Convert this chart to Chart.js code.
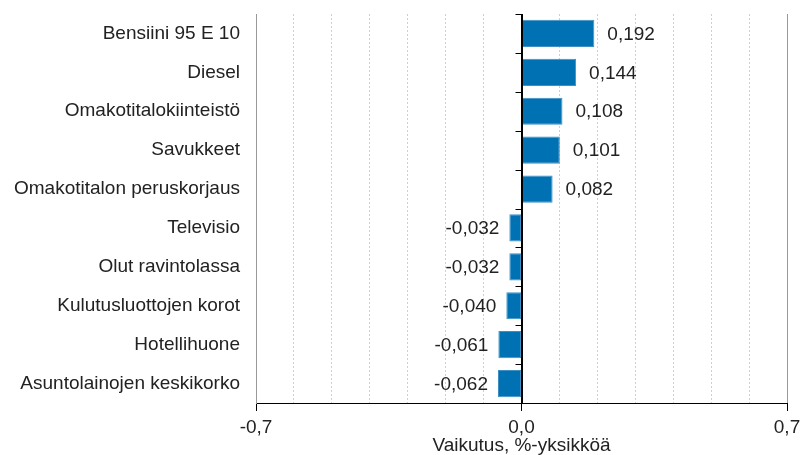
<!DOCTYPE html>
<html>
<head>
<meta charset="utf-8">
<script src="https://cdn.jsdelivr.net/npm/chart.js@4/dist/chart.umd.min.js"></script>
<style>
  html, body { margin: 0; padding: 0; background: #fff; }
  #wrap { width: 803px; height: 455px; }
</style>
</head>
<body>
<div id="wrap"><canvas id="c" width="803" height="455"></canvas></div>
<script>
const categories = [
  "Bensiini 95 E 10",
  "Diesel",
  "Omakotitalokiinteistö",
  "Savukkeet",
  "Omakotitalon peruskorjaus",
  "Televisio",
  "Olut ravintolassa",
  "Kulutusluottojen korot",
  "Hotellihuone",
  "Asuntolainojen keskikorko"
];
const values = [0.192, 0.144, 0.108, 0.101, 0.082, -0.032, -0.032, -0.040, -0.061, -0.062];
const axisMin = -0.7;
const axisMax = 0.7;
const labeledTicks = [-0.7, 0, 0.7];
const axisTitle = "Vaikutus, %-yksikköä";

const FONT = "'Liberation Sans', Arial, sans-serif";
const TEXT = '#222';

function fmt(v, d) { return v.toFixed(d).replace('.', ','); }
function isLabeled(v) { return labeledTicks.some(t => Math.abs(t - v) < 1e-9); }

const extras = {
  id: 'extras',
  afterDatasetsDraw(chart) {
    const ctx = chart.ctx;
    const xs = chart.scales.x, ys = chart.scales.y;
    const x0 = Math.round(xs.getPixelForValue(0)) + 0.5;
    ctx.save();
    ctx.strokeStyle = '#000';
    ctx.lineWidth = 1;
    ctx.beginPath();
    ctx.moveTo(x0, chart.chartArea.top);
    ctx.lineTo(x0, chart.chartArea.bottom);
    ctx.stroke();
    for (let i = 0; i <= categories.length; i++) {
      const y = Math.round(ys.getPixelForValue(i - 0.5)) + 0.5;
      ctx.beginPath();
      ctx.moveTo(x0 - 7, y);
      ctx.lineTo(x0, y);
      ctx.stroke();
    }
    ctx.font = '19px ' + FONT;
    ctx.fillStyle = TEXT;
    ctx.textBaseline = 'middle';
    const meta = chart.getDatasetMeta(0);
    meta.data.forEach((bar, i) => {
      const v = values[i];
      if (v >= 0) {
        ctx.textAlign = 'left';
        ctx.fillText(fmt(v, 3), bar.x + 13, bar.y + 1);
      } else {
        ctx.textAlign = 'right';
        ctx.fillText(fmt(v, 3), bar.x - 10, bar.y + 1);
      }
    });
    ctx.restore();
  }
};

new Chart(document.getElementById('c'), {
  type: 'bar',
  data: {
    labels: categories,
    datasets: [{
      data: values,
      backgroundColor: '#0071b3',
      borderColor: '#3d8fc4',
      borderWidth: 1,
      borderSkipped: false,
      categoryPercentage: 1.0,
      barPercentage: 0.7
    }]
  },
  options: {
    indexAxis: 'y',
    responsive: false,
    animation: false,
    devicePixelRatio: 1,
    layout: { padding: { top: 14, right: 16, bottom: 0, left: 0 } },
    plugins: { legend: { display: false }, tooltip: { enabled: false } },
    scales: {
      x: {
        type: 'linear',
        min: axisMin,
        max: axisMax,
        afterFit(s) { s.height = 52; s.paddingLeft = 0; s.paddingRight = 0; },
        ticks: {
          stepSize: 0.1,
          autoSkip: false,
          maxRotation: 0,
          padding: 5,
          color: TEXT,
          font: { family: FONT, size: 19 },
          callback: (v) => isLabeled(v) ? fmt(Math.abs(v) < 1e-9 ? 0 : v, 1) : ''
        },
        grid: {
          drawTicks: true,
          tickLength: 8,
          tickColor: (c) => (c.tick && isLabeled(c.tick.value)) ? '#000' : 'rgba(0,0,0,0)',
          color: (c) => {
            if (!c.tick) return '#ccc';
            const v = c.tick.value;
            if (Math.abs(v) < 1e-9) return '#000';
            if (Math.abs(Math.abs(v) - 0.7) < 1e-9) return '#999';
            return '#cfcfcf';
          },
          lineWidth: 1
        },
        border: {
          display: true,
          color: '#000',
          width: 1,
          dash: (c) => {
            if (!c.tick) return [];
            return isLabeled(c.tick.value) ? [] : [2, 2];
          }
        },
        title: {
          display: true,
          text: axisTitle,
          color: TEXT,
          font: { family: FONT, size: 19, lineHeight: 1.0 },
          padding: { top: 0, bottom: 0 }
        }
      },
      y: {
        type: 'category',
        afterFit(s) { s.width = 256; s.paddingTop = 0; s.paddingBottom = 0; },
        ticks: {
          padding: 16,
          color: TEXT,
          font: { family: FONT, size: 19 }
        },
        grid: { display: false, drawTicks: false },
        border: { display: true, color: '#999', width: 1 }
      }
    }
  },
  plugins: [extras]
});
</script>
</body>
</html>
